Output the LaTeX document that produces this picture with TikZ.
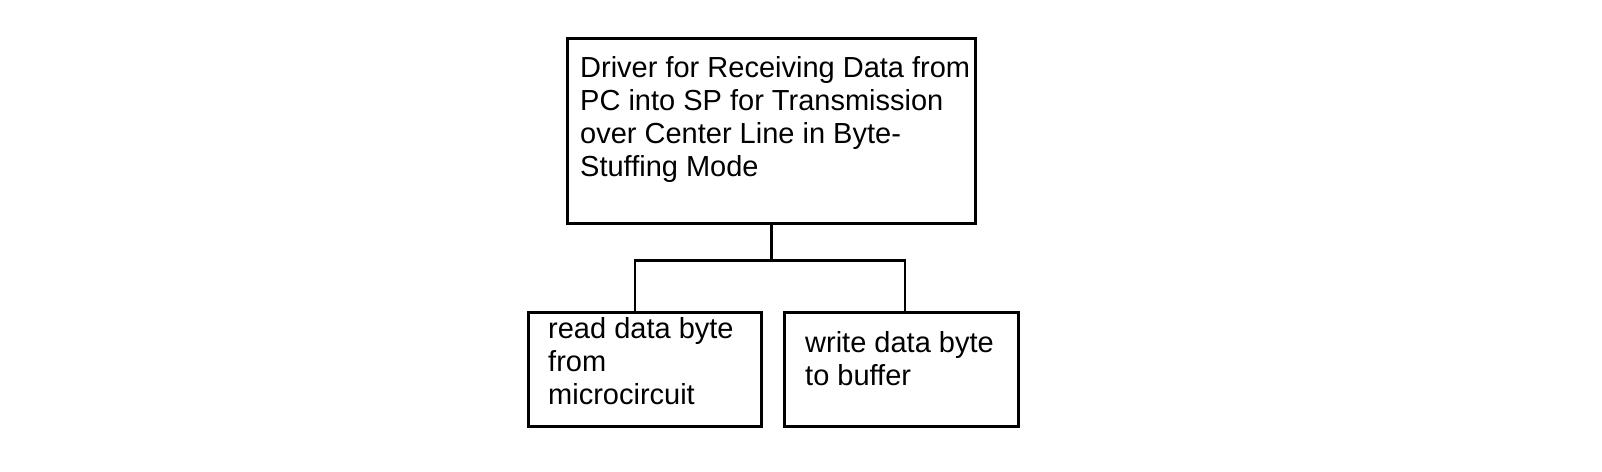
\documentclass[tikz,border=0pt]{standalone}
\usepackage{fontspec}
\setmainfont{Liberation Sans}
\begin{document}
\begin{tikzpicture}[x=1pt,y=-1pt]
  \tikzset{
    blk box/.style={draw,line width=2.5pt},
    blk text/.style={anchor=north west,align=left,inner sep=0,
      font=\fontsize{29}{33}\selectfont},
    blk link/.style={line width=2.5pt}
  }
  \useasboundingbox (0,0) rectangle (1602,471);
  \node[blk box,minimum width=408pt,minimum height=185pt,anchor=north west] (top) at (566,37) {};
  \node[blk box,minimum width=233pt,minimum height=114pt,anchor=north west] (left) at (527,311) {};
  \node[blk box,minimum width=234pt,minimum height=114pt,anchor=north west] (right) at (783,311) {};
  \node[blk text] (toptext) at (580,56) {Driver for Receiving Data from\\PC into SP for Transmission\\over Center Line in Byte-\\Stuffing Mode};
  \node[blk text] (lefttext) at (548,317) {read data byte\\from\\microcircuit};
  \node[blk text] (righttext) at (805,331) {write data byte\\to buffer};
  \coordinate (fork) at ([yshift=-36pt]top.south);
  \draw[blk link] (top.south) -- (fork);
  \draw[blk link] (left.north -| 635,0) |- (fork) -| (right.north -| 905,0);
\end{tikzpicture}
\end{document}
